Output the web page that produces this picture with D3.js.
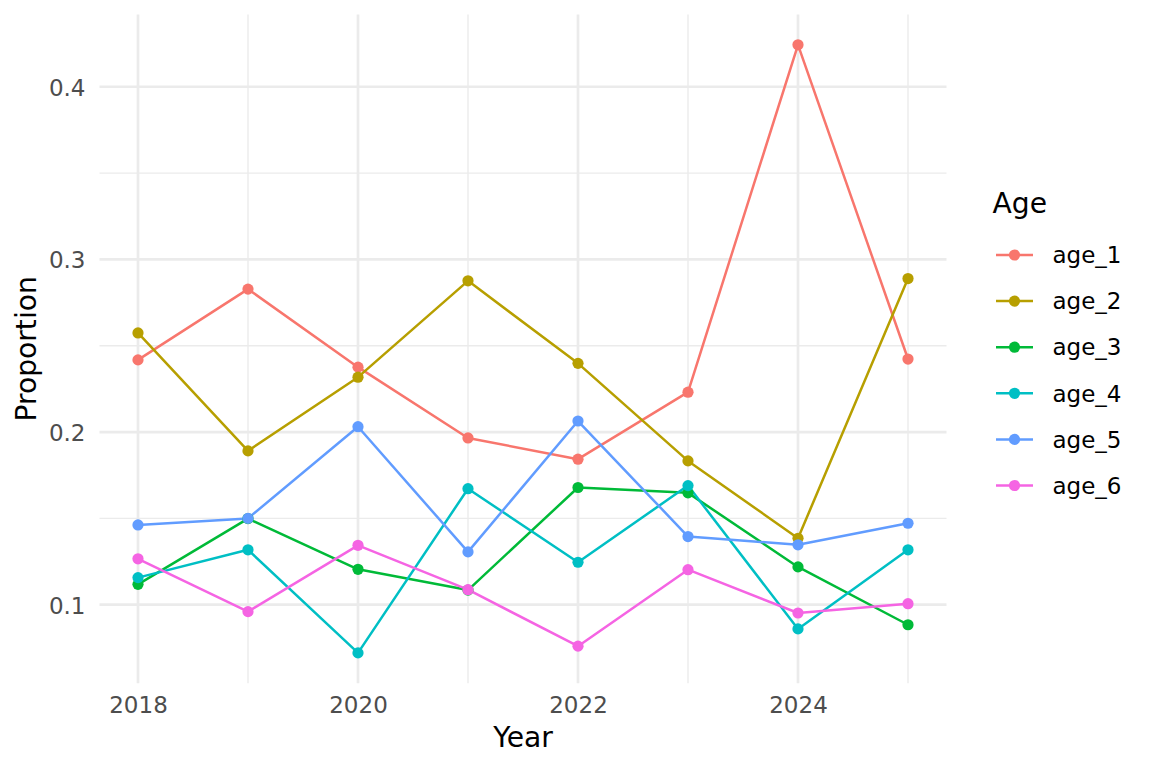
<!DOCTYPE html>
<html>
<head>
<meta charset="utf-8">
<script src="https://cdn.jsdelivr.net/npm/d3@7"></script>
<style>
  html, body { margin: 0; padding: 0; background: #fff; }
  svg { display: block; font-family: "DejaVu Sans", sans-serif; }
</style>
</head>
<body>
<svg id="chart" width="1152" height="768"></svg>
<script>
const years = [2018, 2019, 2020, 2021, 2022, 2023, 2024, 2025];
const seriesNames = ["age_1", "age_2", "age_3", "age_4", "age_5", "age_6"];
const age_1 = [0.2418, 0.2828, 0.2376, 0.1966, 0.1843, 0.2231, 0.4243, 0.2423];
const age_2 = [0.2574, 0.1891, 0.2318, 0.2876, 0.2398, 0.1833, 0.1385, 0.2889];
const age_3 = [0.1118, 0.1499, 0.1205, 0.1085, 0.1679, 0.1648, 0.1219, 0.0884];
const age_4 = [0.1157, 0.1318, 0.0721, 0.1672, 0.1246, 0.1690, 0.0860, 0.1318];
const age_5 = [0.1462, 0.1500, 0.2031, 0.1306, 0.2064, 0.1395, 0.1347, 0.1472];
const age_6 = [0.1266, 0.0960, 0.1344, 0.1087, 0.0760, 0.1203, 0.0952, 0.1006];
const colors = ["#F8766D", "#B79F00", "#00BA38", "#00BFC4", "#619CFF", "#F564E3"];
const yTicks = [0.1, 0.2, 0.3, 0.4];
const yMinor = [0.15, 0.25, 0.35];
const xTicks = [2018, 2020, 2022, 2024];
const xMinor = [2019, 2021, 2023, 2025];
const xTitle = "Year";
const yTitle = "Proportion";
const legendTitle = "Age";

const seriesValues = [age_1, age_2, age_3, age_4, age_5, age_6];
const series = seriesNames.map((name, i) => ({
  name, color: colors[i],
  points: years.map((y, j) => ({ year: y, value: seriesValues[i][j] }))
}));

const svg = d3.select("#chart");
const panel = { left: 99.5, right: 946.5, top: 14.4, bottom: 683.3 };
const tickFont = 23;
const titleFont = 28.2;

const xExt = d3.extent(years);
const xPad = (xExt[1] - xExt[0]) * 0.05;
const x = d3.scaleLinear().domain([xExt[0] - xPad, xExt[1] + xPad]).range([panel.left, panel.right]);

const allVals = seriesValues.flat();
const yExt = d3.extent(allVals);
const yPad = (yExt[1] - yExt[0]) * 0.05;
const y = d3.scaleLinear().domain([yExt[0] - yPad, yExt[1] + yPad]).range([panel.bottom, panel.top]);

const grid = svg.append("g");
// minor grid
grid.selectAll(".hminor").data(yMinor).join("line")
  .attr("x1", panel.left).attr("x2", panel.right)
  .attr("y1", d => y(d)).attr("y2", d => y(d))
  .attr("stroke", "#EBEBEB").attr("stroke-width", 1.4);
grid.selectAll(".vminor").data(xMinor).join("line")
  .attr("y1", panel.top).attr("y2", panel.bottom)
  .attr("x1", d => x(d)).attr("x2", d => x(d))
  .attr("stroke", "#EBEBEB").attr("stroke-width", 1.4);
// major grid
grid.selectAll(".hmajor").data(yTicks).join("line")
  .attr("x1", panel.left).attr("x2", panel.right)
  .attr("y1", d => y(d)).attr("y2", d => y(d))
  .attr("stroke", "#EBEBEB").attr("stroke-width", 2.7);
grid.selectAll(".vmajor").data(xTicks).join("line")
  .attr("y1", panel.top).attr("y2", panel.bottom)
  .attr("x1", d => x(d)).attr("x2", d => x(d))
  .attr("stroke", "#EBEBEB").attr("stroke-width", 2.7);

// axes (labels only, via d3 axis)
const yAxis = d3.axisLeft(y).tickValues(yTicks).tickFormat(d3.format(".1f")).tickSize(0).tickPadding(14);
const gy = svg.append("g").attr("transform", `translate(${panel.left},0)`).call(yAxis);
gy.select(".domain").remove();
gy.selectAll("text").attr("font-size", tickFont).attr("fill", "#4D4D4D")
  .attr("font-family", "DejaVu Sans, sans-serif").attr("dy", "0.36em");

const xAxis = d3.axisBottom(x).tickValues(xTicks).tickFormat(d3.format("d")).tickSize(0).tickPadding(13.5);
const gx = svg.append("g").attr("transform", `translate(0,${panel.bottom})`).call(xAxis);
gx.select(".domain").remove();
gx.selectAll("text").attr("font-size", tickFont).attr("fill", "#4D4D4D")
  .attr("font-family", "DejaVu Sans, sans-serif").attr("dy", "0.71em");

// axis titles
svg.append("text").attr("x", (panel.left + panel.right) / 2).attr("y", 746.7)
  .attr("text-anchor", "middle").attr("font-size", titleFont).attr("fill", "#000").text(xTitle);
svg.append("text").attr("transform", `translate(36,${(panel.top + panel.bottom) / 2}) rotate(-90)`)
  .attr("text-anchor", "middle").attr("font-size", titleFont).attr("fill", "#000").text(yTitle);

// lines and points
const line = d3.line().x(d => x(d.year)).y(d => y(d.value));
const gS = svg.append("g");
series.forEach(s => {
  gS.append("path").datum(s.points).attr("d", line)
    .attr("fill", "none").attr("stroke", s.color).attr("stroke-width", 2.5)
    .attr("stroke-linejoin", "round");
});
series.forEach(s => {
  gS.selectAll(null).data(s.points).join("circle")
    .attr("cx", d => x(d.year)).attr("cy", d => y(d.value)).attr("r", 5.6)
    .attr("fill", s.color);
});

// legend
const lg = svg.append("g");
lg.append("text").attr("x", 992.5).attr("y", 213.3).attr("font-size", titleFont).attr("fill", "#000").text(legendTitle);
const legendY = d3.scalePoint().domain(seriesNames).range([255, 485.5]);
series.forEach(s => {
  const cy = legendY(s.name);
  lg.append("line").attr("x1", 996).attr("x2", 1033).attr("y1", cy).attr("y2", cy)
    .attr("stroke", s.color).attr("stroke-width", 2.5);
  lg.append("circle").attr("cx", 1014.5).attr("cy", cy).attr("r", 5.6).attr("fill", s.color);
  lg.append("text").attr("x", 1052.5).attr("y", cy).attr("dy", "0.36em")
    .attr("font-size", tickFont).attr("fill", "#000").text(s.name);
});
</script>
</body>
</html>
